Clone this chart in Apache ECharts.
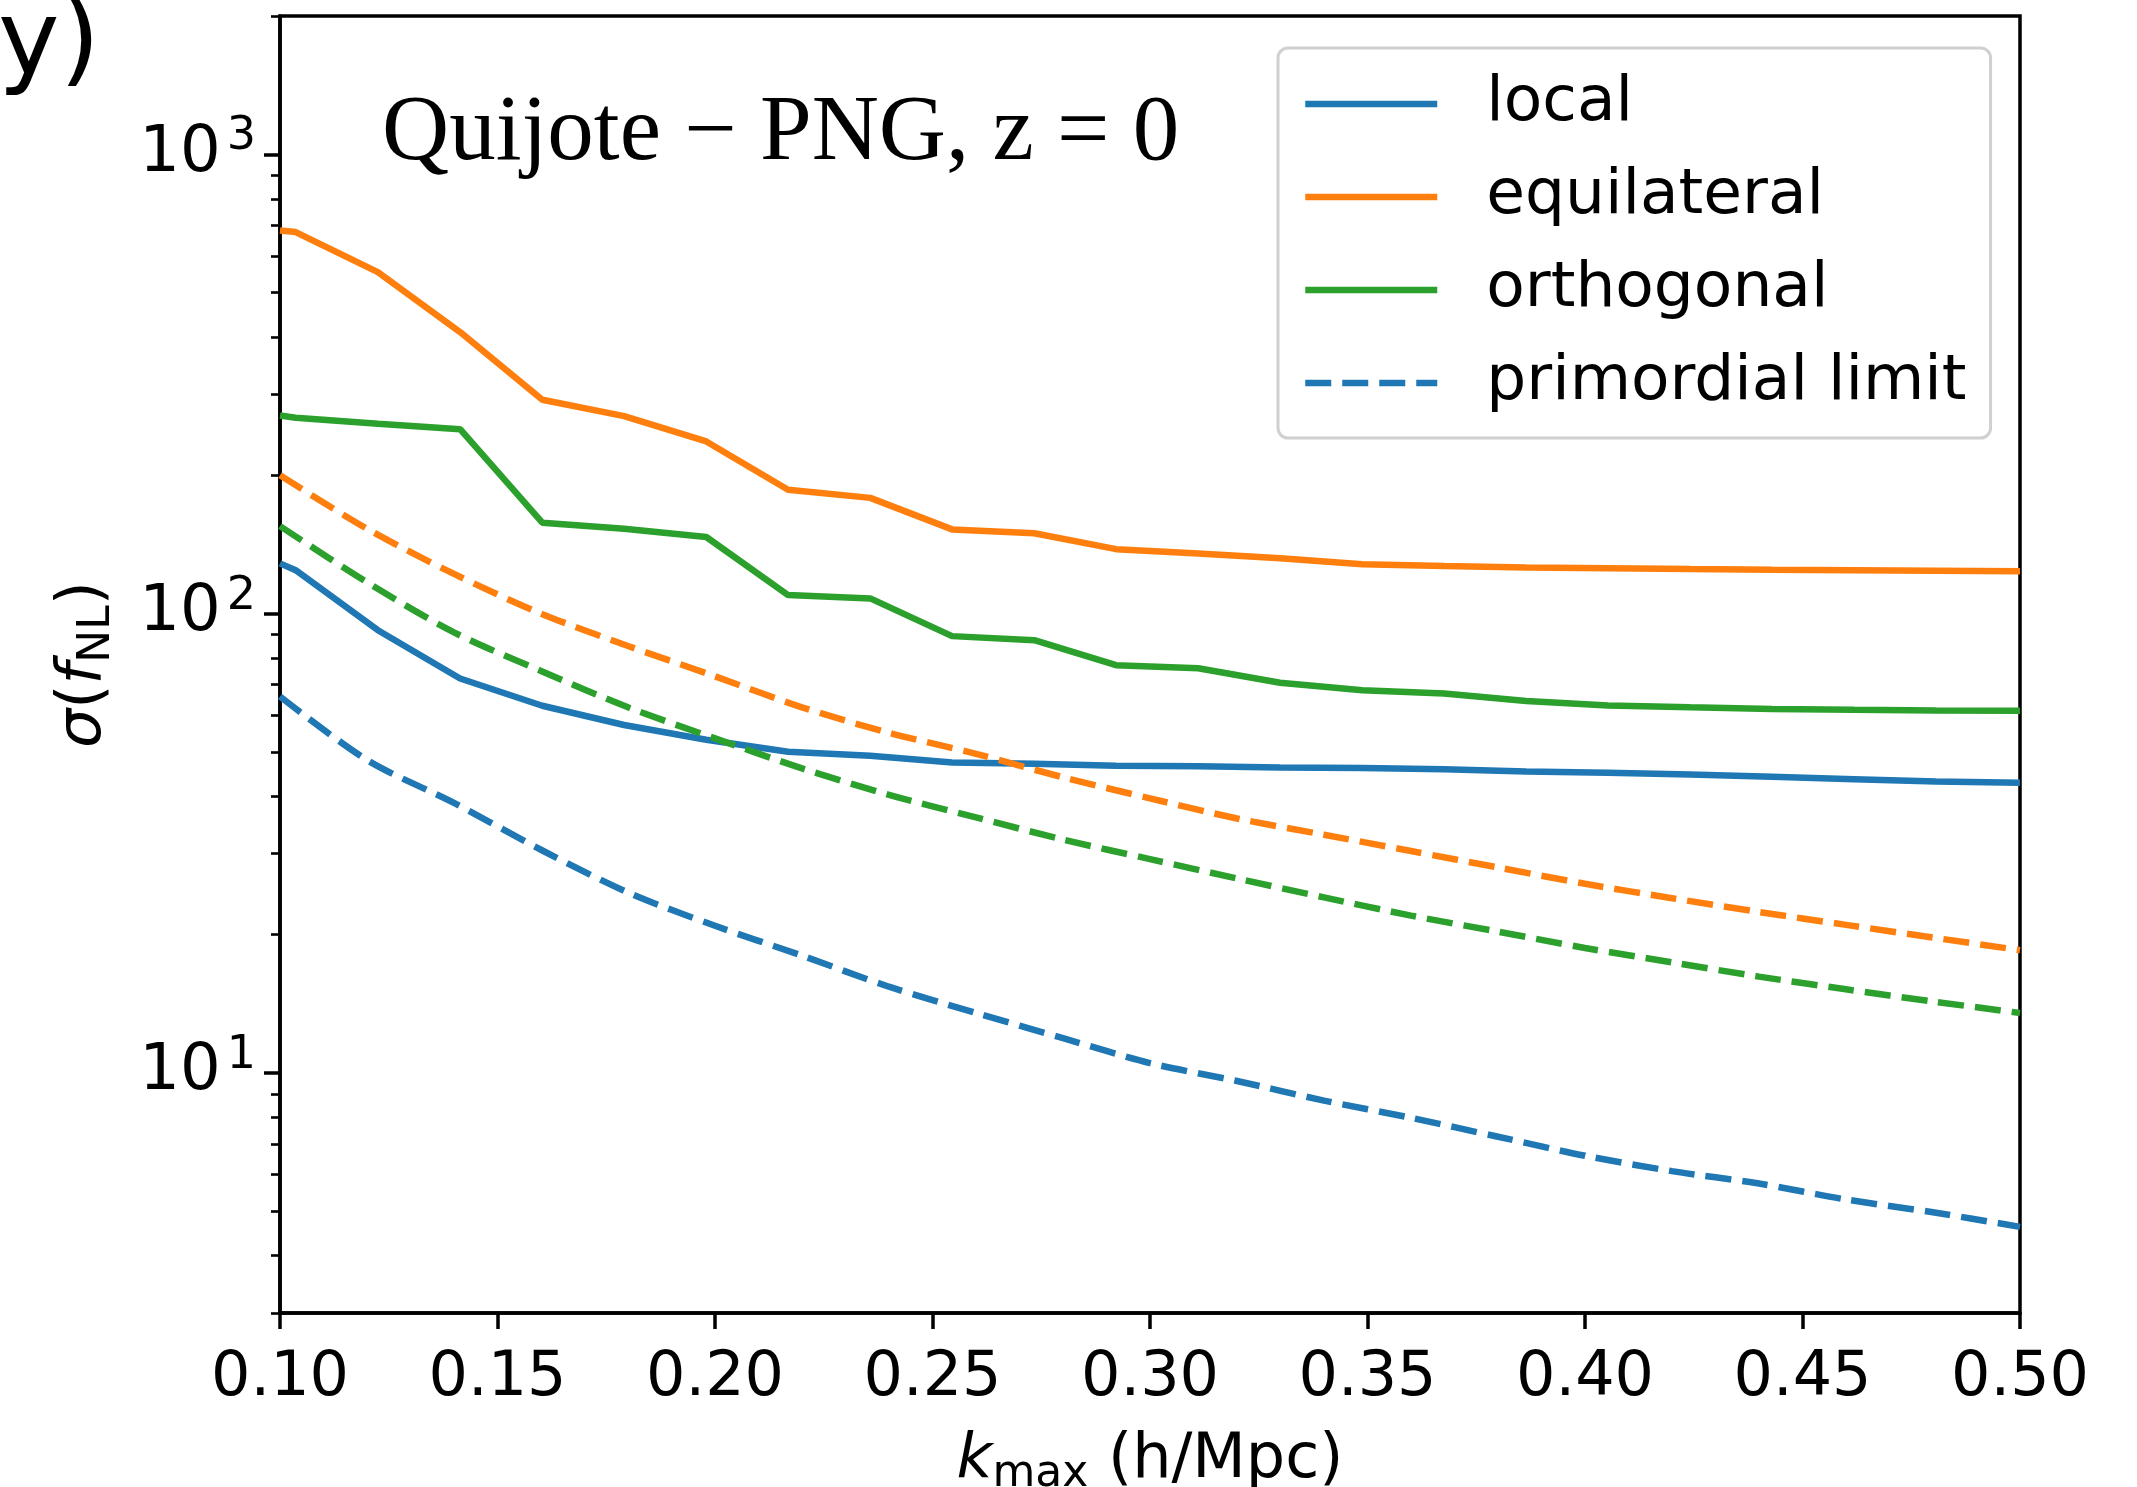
<!DOCTYPE html>
<html>
<head>
<meta charset="utf-8">
<script src="https://cdn.jsdelivr.net/npm/echarts@6/dist/echarts.min.js"></script>
<style>
  html, body { margin: 0; padding: 0; background: #fff; }
  #chart { width: 2137px; height: 1487px; }
</style>
</head>
<body>
<div id="chart"></div>
<script>
// k_max values where the Fisher forecasts were evaluated (solid lines)
const kSolid = [0.1, 0.1036, 0.1225, 0.1414, 0.1603, 0.1791, 0.1980, 0.2168, 0.2357, 0.2545, 0.2734, 0.2922,
    0.3111, 0.3299, 0.3488, 0.3676, 0.3865, 0.4053, 0.4242, 0.4430, 0.4619, 0.4807, 0.5];
const localVals = [128.6, 124.3, 92.0, 72.2, 63.0, 57.2, 53.1, 50.0, 49.0, 47.4, 47.1, 46.6,
    46.5, 46.2, 46.1, 45.8, 45.3, 45.0, 44.6, 44.1, 43.6, 43.1, 42.8];
const equilVals = [682, 677, 554, 410, 292, 269, 237, 186, 178.6, 152.5, 149.6, 138.1,
    135.2, 131.9, 128.0, 126.9, 126.0, 125.5, 125.0, 124.6, 124.3, 124.0, 123.7];
const orthoVals = [270, 267, 259, 252, 157.7, 153, 146.8, 109.7, 107.9, 89.3, 87.5, 77.2,
    76.0, 70.7, 68.1, 67.0, 64.5, 63.1, 62.5, 62.0, 61.7, 61.5, 61.4];

// primordial limit (dashed lines)
const kLimit = [0.10, 0.12, 0.14, 0.16, 0.18, 0.20, 0.22, 0.24, 0.26, 0.28, 0.30,
    0.32, 0.34, 0.36, 0.38, 0.40, 0.42, 0.44, 0.46, 0.48, 0.50];
const limitLocal = [66, 48.0, 38.7, 30.6, 24.7, 20.9, 18.0, 15.4, 13.5, 11.9, 10.5,
    9.6, 8.7, 7.98, 7.26, 6.6, 6.11, 5.74, 5.3, 4.97, 4.62];
const limitEquil = [200, 153, 122, 100, 85, 73, 62.5, 55, 49.5, 44, 39.6,
    35.8, 33, 30.4, 28, 25.8, 24, 22.4, 21, 19.7, 18.5];
const limitOrtho = [155, 117, 91, 75, 62.5, 53.5, 46, 40.3, 36, 32.2, 29.2,
    26.5, 24.1, 22, 20.3, 18.7, 17.4, 16.2, 15.2, 14.3, 13.5];

const yMajor = [10, 100, 1000];
const yMinor = [3, 4, 5, 6, 7, 8, 9, 20, 30, 40, 50, 60, 70, 80, 90, 200, 300, 400, 500, 600, 700, 800, 900, 2000];

const BLUE = '#1f77b4', ORANGE = '#ff7f0e', GREEN = '#2ca02c';
const FONT = 'DejaVu Sans';
const LW = 6.5;
const DASH = [26, 11];

const pairs = (xs, ys) => xs.map((x, i) => [x, ys[i]]);

function lineSeries(name, xs, ys, color, dashed) {
    return {
        name: name,
        type: 'line',
        data: pairs(xs, ys),
        symbol: 'none',
        showSymbol: false,
        smooth: dashed ? 0.3 : false,
        clip: true,
        lineStyle: {color: color, width: LW, type: dashed ? DASH : 'solid'},
        itemStyle: {color: color},
        emphasis: {disabled: true}
    };
}

const chart = echarts.init(document.getElementById('chart'), null, {renderer: 'canvas'});

const option = {
    animation: false,
    backgroundColor: '#fff',
    grid: {
        left: 280, top: 16, width: 1740, height: 1297,
        containLabel: false, outerBoundsMode: 'none',
        show: true, borderColor: '#000', borderWidth: 3.5, backgroundColor: 'transparent'
    },
    xAxis: {
        type: 'value',
        min: 0.1, max: 0.5, interval: 0.05,
        axisLine: {lineStyle: {color: '#000', width: 3.5}},
        axisTick: {length: 16, lineStyle: {color: '#000', width: 3.5}},
        splitLine: {show: false},
        axisLabel: {
            color: '#000', fontFamily: FONT, fontSize: 62, margin: 35,
            formatter: (v) => v.toFixed(2)
        },
        name: '{k|k}{sub|max}{n| (h/Mpc)}',
        nameLocation: 'middle',
        nameGap: 112,
        nameTextStyle: {
            rich: {
                k: {fontFamily: FONT, fontStyle: 'italic', fontSize: 62, color: '#000'},
                sub: {fontFamily: FONT, fontSize: 44, color: '#000', padding: [28, 0, 0, 0]},
                n: {fontFamily: FONT, fontSize: 62, color: '#000'}
            }
        }
    },
    yAxis: [{
        type: 'log', logBase: 10,
        min: 3, max: 2000,
        axisLine: {show: true, lineStyle: {color: '#000', width: 3.5}},
        axisTick: {length: 16, customValues: yMajor, lineStyle: {color: '#000', width: 3.5}},
        splitLine: {show: false},
        axisLabel: {
            customValues: yMajor,
            margin: 24,
            formatter: (v) => '{b|10}{s|' + Math.round(Math.log10(v)) + '}',
            rich: {
                b: {fontFamily: FONT, fontSize: 64, color: '#000'},
                s: {fontFamily: FONT, fontSize: 46, color: '#000', padding: [0, 0, 34, 6]}
            }
        },
        name: '{s|σ}{n|(}{f|f}{sub|NL}{n|)}',
        nameLocation: 'middle',
        nameRotate: 90,
        nameGap: 160,
        nameTextStyle: {
            rich: {
                s: {fontFamily: FONT, fontStyle: 'italic', fontSize: 62, color: '#000'},
                f: {fontFamily: FONT, fontStyle: 'italic', fontSize: 62, color: '#000'},
                sub: {fontFamily: FONT, fontSize: 44, color: '#000', padding: [28, 0, 0, 0]},
                n: {fontFamily: FONT, fontSize: 62, color: '#000'}
            }
        }
    }, {
        // minor ticks only
        type: 'log', logBase: 10,
        min: 3, max: 2000,
        position: 'left',
        axisLine: {show: false},
        axisTick: {length: 9, customValues: yMinor, lineStyle: {color: '#000', width: 2.6}},
        axisLabel: {show: false},
        splitLine: {show: false}
    }],
    legend: {
        data: ['local', 'equilateral', 'orthogonal', 'primordial limit'],
        orient: 'vertical',
        left: 1278, top: 48,
        padding: [21, 24, 20, 24],
        itemWidth: 132, itemHeight: 8, itemGap: 23,
        backgroundColor: '#fff',
        borderColor: '#d0d0d0', borderWidth: 3, borderRadius: 10,
        selectedMode: false,
        itemStyle: {opacity: 0},
        lineStyle: {width: LW},
        textStyle: {
            fontFamily: FONT, fontSize: 63, color: '#000', lineHeight: 70,
            padding: [0, 0, 0, 44]
        }
    },
    graphic: [{
        type: 'text', left: 382, top: 88,
        style: {
            text: 'Quijote \u2212 PNG, z = 0',
            font: '93px "Liberation Serif", "Times New Roman", serif',
            fill: '#000'
        }
    }, {
        type: 'text', left: -2, top: -6,
        style: {text: 'y)', font: '104px "DejaVu Sans"', fill: '#000'}
    }],
    series: [
        lineSeries('local', kSolid, localVals, BLUE, false),
        lineSeries('equilateral', kSolid, equilVals, ORANGE, false),
        lineSeries('orthogonal', kSolid, orthoVals, GREEN, false),
        lineSeries('primordial limit', kLimit, limitLocal, BLUE, true),
        lineSeries('primordial limit (equilateral)', kLimit, limitEquil, ORANGE, true),
        lineSeries('primordial limit (orthogonal)', kLimit, limitOrtho, GREEN, true)
    ]
};

chart.setOption(option);
</script>
</body>
</html>
